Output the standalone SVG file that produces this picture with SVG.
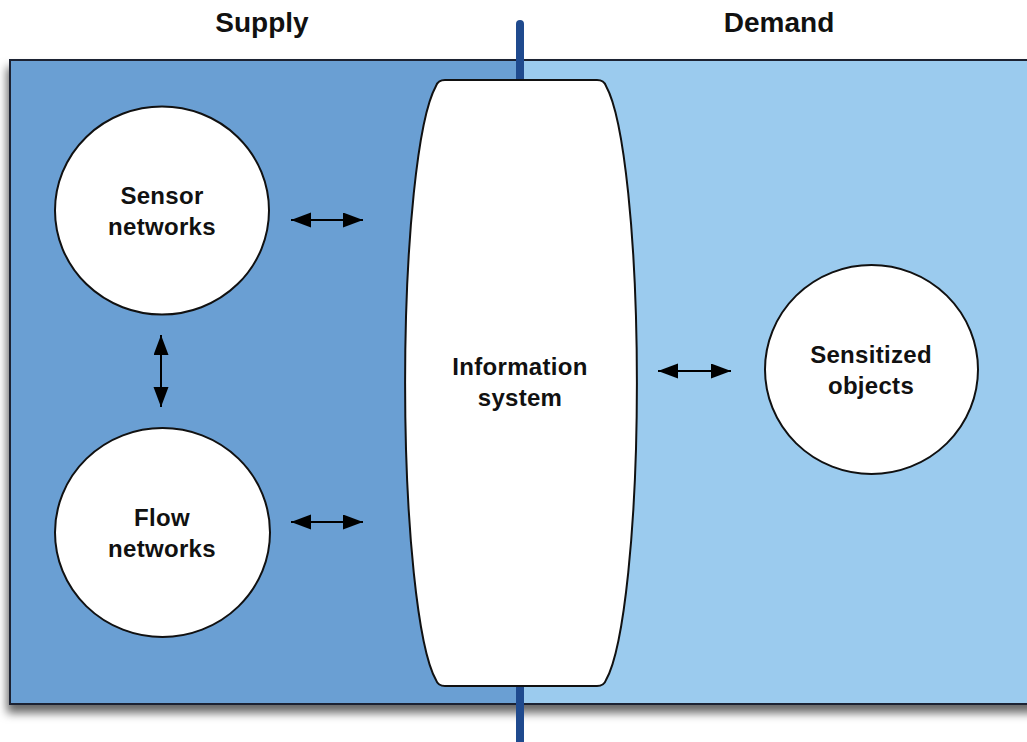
<svg xmlns="http://www.w3.org/2000/svg" width="1027" height="742" viewBox="0 0 1027 742">
  <style>
    .title { font-family: "Liberation Sans", Arial, sans-serif; font-weight: bold; font-size: 28px; fill: #111; text-anchor: middle; }
    .label { font-family: "Liberation Sans", Arial, sans-serif; font-weight: bold; font-size: 24px; letter-spacing: 0.3px; fill: #111; text-anchor: middle; }
    .node { fill: #ffffff; stroke: #111; stroke-width: 2; }
    .link { stroke: #000; stroke-width: 2; fill: none; marker-start: url(#head); marker-end: url(#head); }
  </style>
  <defs>
    <marker id="head" markerUnits="userSpaceOnUse" markerWidth="22" markerHeight="16" refX="20" refY="7.5" orient="auto-start-reverse" viewBox="0 0 22 16">
      <path d="M0,0 L20,7.5 L0,15 Z" fill="#000"/>
    </marker>
    <filter id="shadow" x="-5%" y="-5%" width="110%" height="115%">
      <feDropShadow dx="-2" dy="8" stdDeviation="5" flood-color="#000" flood-opacity="0.6"/>
    </filter>
  </defs>

  <rect width="1027" height="742" fill="#ffffff"/>

  <!-- headings -->
  <text class="title" x="262" y="32">Supply</text>
  <text class="title" x="779" y="32">Demand</text>

  <!-- supply / demand panel -->
  <g id="panel">
    <rect x="10" y="60" width="1030" height="644" fill="#6A9FD3" stroke="#1a2230" stroke-width="2" filter="url(#shadow)"/>
    <rect x="520" y="61" width="520" height="642" fill="#9BCBEE"/>
  </g>

  <!-- supply/demand divider -->
  <line id="divider" x1="520" y1="24" x2="520" y2="742" stroke="#1F4A8E" stroke-width="8" stroke-linecap="round"/>

  <g id="information-system">
    <path class="node" d="M445,80 H597 Q604,80 606,86 A40,305 0 0 1 606,680 Q604,686 597,686 H445 Q438,686 436,680 A40,305 0 0 1 436,86 Q438,80 445,80 Z"/>
    <text class="label" x="520" y="375">Information</text>
    <text class="label" x="520" y="406">system</text>
  </g>

  <g id="sensor-networks">
    <ellipse class="node" cx="162" cy="210.5" rx="107" ry="104"/>
    <text class="label" x="162" y="204">Sensor</text>
    <text class="label" x="162" y="235">networks</text>
  </g>

  <g id="flow-networks">
    <ellipse class="node" cx="162.5" cy="532.5" rx="107.5" ry="104.5"/>
    <text class="label" x="162" y="526">Flow</text>
    <text class="label" x="162" y="557">networks</text>
  </g>

  <g id="sensitized-objects">
    <ellipse class="node" cx="871.5" cy="369.5" rx="106.5" ry="104.5"/>
    <text class="label" x="871" y="363">Sensitized</text>
    <text class="label" x="871" y="394">objects</text>
  </g>

  <g id="connectors">
    <line class="link" x1="291" y1="220" x2="363" y2="220"/>
    <line class="link" x1="161" y1="335" x2="161" y2="407"/>
    <line class="link" x1="291" y1="522" x2="363" y2="522"/>
    <line class="link" x1="658" y1="371" x2="731" y2="371"/>
  </g>
</svg>
